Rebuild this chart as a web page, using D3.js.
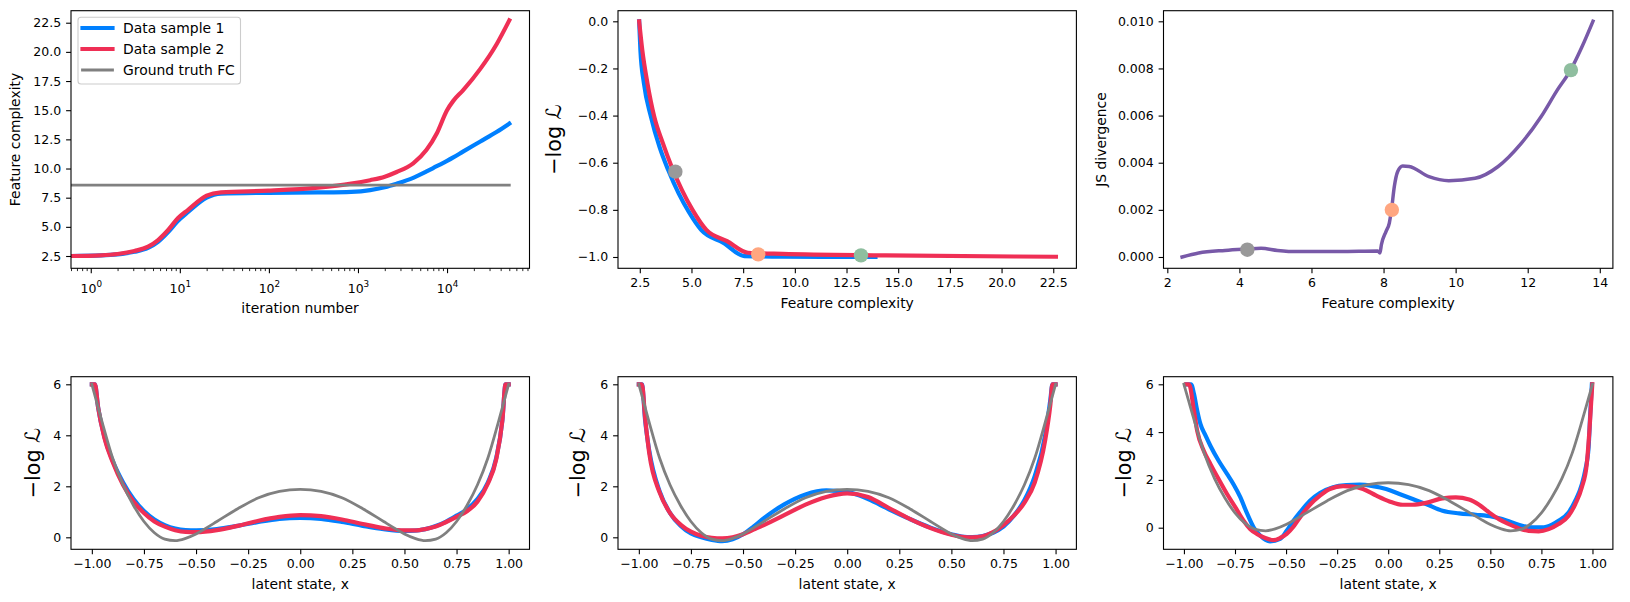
<!DOCTYPE html>
<html><head><meta charset="utf-8">
<script src="https://cdn.jsdelivr.net/npm/d3@7"></script>
<style>
body{margin:0;background:#fff}
svg{display:block}
text{font-family:"DejaVu Sans",sans-serif;fill:#000}
</style>
</head><body>
<svg id="c" width="1630" height="602"></svg>
<script>
// ---------------- data ----------------
// Panel 1: feature complexity vs iteration
const iterations = [0.6, 1.3, 2, 3.1, 4.4, 5.7, 7.4, 9.5, 12.3, 20, 29, 98, 355, 840, 1370, 2000, 2720, 4170, 5890, 7660, 10000, 11750, 15100, 23400, 36300, 50000];
const fcSample1 = [2.5, 2.55, 2.64, 2.86, 3.2, 3.72, 4.55, 5.5, 6.25, 7.5, 7.85, 7.92, 7.95, 8.0, 8.15, 8.4, 8.7, 9.2, 9.75, 10.2, 10.65, 10.95, 11.45, 12.3, 13.15, 13.85];
const fcSample2 = [2.5, 2.56, 2.67, 2.93, 3.3, 3.87, 4.73, 5.73, 6.44, 7.67, 7.96, 8.1, 8.36, 8.7, 9.0, 9.3, 9.7, 10.45, 11.6, 13.0, 15.0, 15.8, 16.7, 18.5, 20.7, 22.7];
const gtIterations = [0.6, 50000];
const gtFC = [8.57, 8.57];
const iterTicks = [1, 10, 100, 1000, 10000];

// Panel 2: -log L vs feature complexity
const nllFC1 = [2.47, 2.53, 2.7, 3.04, 3.45, 3.87, 4.38, 4.88, 5.47, 6.55, 7.56, 9.4, 13.9];
const nllSample1 = [0.0, -0.122, -0.263, -0.405, -0.532, -0.63, -0.73, -0.81, -0.885, -0.94, -0.996, -0.999, -1.0];
const nllFC2 = [2.47, 2.62, 2.87, 3.2, 3.62, 4.04, 4.54, 5.05, 5.72, 6.72, 7.73, 9.4, 14.4, 22.63];
const nllSample2 = [0.0, -0.122, -0.263, -0.405, -0.518, -0.617, -0.716, -0.80, -0.885, -0.933, -0.982, -0.987, -0.993, -0.999];
const markerFC = [4.22, 8.23, 13.2];
const markerNLL = [-0.638, -0.989, -0.993];
const markerJS = [0.00031, 0.0020, 0.00793];
const markerColors = ["#999999", "#FFA680", "#8FBE9F"];

// Panel 3: JS divergence vs feature complexity
const jsFC = [2.41, 2.87, 3.6, 4.24, 4.6, 5.06, 5.6, 6.79, 7.84, 7.9, 7.94, 8.07, 8.16, 8.22, 8.3, 8.39, 8.53, 8.71, 9.26, 9.81, 10.54, 11.18, 11.82, 12.37, 12.82, 13.19, 13.5, 13.81];
const jsValues = [0, 0.00017, 0.00028, 0.00034, 0.00037, 0.00028, 0.00023, 0.00023, 0.00025, 0.00017, 0.00052, 0.00109, 0.00144, 0.0020, 0.0030, 0.00362, 0.00386, 0.00384, 0.00341, 0.00324, 0.00334, 0.00384, 0.00482, 0.00595, 0.00708, 0.00793, 0.0089, 0.0100];

// Bottom panels: potentials vs latent state x
const gtX = [-1.0, -0.98, -0.95, -0.9, -0.85, -0.8, -0.75, -0.7, -0.65, -0.6, -0.55, -0.5, -0.45, -0.4, -0.3, -0.2, -0.1, 0, 0.1, 0.2, 0.3, 0.4, 0.45, 0.5, 0.55, 0.6, 0.65, 0.7, 0.75, 0.8, 0.85, 0.9, 0.95, 0.98, 1.0];
const gtPotential = [6.0, 5.4, 4.5, 3.1, 2.05, 1.25, 0.62, 0.18, -0.07, -0.13, -0.04, 0.13, 0.37, 0.62, 1.12, 1.55, 1.8, 1.88, 1.8, 1.55, 1.12, 0.62, 0.37, 0.13, -0.04, -0.13, -0.07, 0.18, 0.62, 1.25, 2.05, 3.1, 4.5, 5.4, 6.0];

const xA = [-1.0, -0.985, -0.97, -0.94, -0.9, -0.85, -0.8, -0.75, -0.7, -0.65, -0.6, -0.55, -0.5, -0.4, -0.3, -0.2, -0.1, 0, 0.1, 0.2, 0.3, 0.4, 0.5, 0.55, 0.6, 0.65, 0.7, 0.75, 0.8, 0.85, 0.9, 0.94, 0.97, 0.985, 1.0];
const potA1 = [6, 6, 5.1, 3.95, 3.0, 2.15, 1.5, 1.03, 0.7, 0.48, 0.34, 0.28, 0.27, 0.32, 0.45, 0.6, 0.72, 0.76, 0.72, 0.6, 0.45, 0.32, 0.25, 0.26, 0.32, 0.44, 0.62, 0.85, 1.1, 1.5, 2.15, 3.1, 4.6, 6, 6];
const potA2 = [6, 6, 5.1, 3.9, 2.95, 2.05, 1.4, 0.95, 0.62, 0.42, 0.28, 0.21, 0.2, 0.28, 0.45, 0.65, 0.8, 0.87, 0.83, 0.7, 0.52, 0.36, 0.27, 0.27, 0.32, 0.42, 0.6, 0.8, 1.02, 1.4, 2.1, 3.05, 4.6, 6, 6];

const xB = [-1, -0.985, -0.97, -0.95, -0.9, -0.85, -0.8, -0.75, -0.7, -0.65, -0.6, -0.55, -0.5, -0.45, -0.4, -0.3, -0.2, -0.1, 0, 0.1, 0.2, 0.3, 0.4, 0.5, 0.55, 0.6, 0.65, 0.7, 0.75, 0.8, 0.85, 0.9, 0.95, 0.975, 0.985, 1.0];
const potB1 = [6, 6, 4.6, 3.4, 1.8, 0.95, 0.45, 0.15, 0.0, -0.1, -0.15, -0.08, 0.12, 0.42, 0.75, 1.3, 1.68, 1.84, 1.78, 1.5, 1.1, 0.72, 0.38, 0.12, 0.03, 0.01, 0.05, 0.18, 0.42, 0.85, 1.45, 2.4, 4.0, 5.4, 6, 6];
const potB2 = [6, 6, 4.7, 3.3, 1.75, 0.95, 0.5, 0.22, 0.06, -0.02, -0.04, 0.0, 0.12, 0.3, 0.48, 0.88, 1.28, 1.58, 1.72, 1.58, 1.15, 0.72, 0.36, 0.1, 0.02, 0.0, 0.04, 0.2, 0.48, 0.85, 1.35, 2.15, 3.8, 5.2, 6, 6];

const xC1 = [-0.985, -0.965, -0.951, -0.935, -0.919, -0.894, -0.87, -0.83, -0.789, -0.756, -0.724, -0.692, -0.659, -0.627, -0.578, -0.529, -0.497, -0.464, -0.432, -0.383, -0.334, -0.27, -0.205, -0.14, -0.075, -0.01, 0.055, 0.12, 0.185, 0.266, 0.347, 0.429, 0.51, 0.558, 0.607, 0.656, 0.705, 0.753, 0.802, 0.834, 0.883, 0.916, 0.948, 0.964, 0.981, 0.989, 0.997];
const potC1 = [6, 6, 5.6, 4.9, 4.33, 3.85, 3.42, 2.8, 2.25, 1.8, 1.28, 0.62, 0.02, -0.33, -0.57, -0.47, -0.13, 0.29, 0.64, 1.13, 1.45, 1.69, 1.78, 1.8, 1.74, 1.62, 1.41, 1.2, 0.99, 0.71, 0.6, 0.54, 0.46, 0.36, 0.22, 0.08, 0.01, 0.01, 0.13, 0.29, 0.64, 1.13, 1.82, 2.38, 3.36, 4.75, 6];
const xC2 = [-0.99, -0.975, -0.951, -0.935, -0.903, -0.87, -0.83, -0.789, -0.748, -0.708, -0.675, -0.643, -0.602, -0.562, -0.529, -0.497, -0.464, -0.432, -0.383, -0.334, -0.286, -0.221, -0.172, -0.123, -0.058, 0.006, 0.071, 0.12, 0.185, 0.266, 0.331, 0.396, 0.445, 0.494, 0.542, 0.591, 0.64, 0.688, 0.737, 0.786, 0.834, 0.883, 0.916, 0.948, 0.972, 0.985, 0.994, 0.999];
const potC2 = [6, 6, 4.9, 4.05, 3.22, 2.66, 2.03, 1.41, 0.85, 0.29, -0.06, -0.26, -0.43, -0.52, -0.43, -0.26, 0.04, 0.43, 0.96, 1.34, 1.62, 1.74, 1.72, 1.62, 1.34, 1.1, 0.96, 0.96, 1.04, 1.23, 1.27, 1.18, 0.96, 0.64, 0.36, 0.15, -0.03, -0.13, -0.15, -0.06, 0.15, 0.5, 0.99, 1.69, 2.66, 4.05, 5.31, 6];

const legendLabels = ["Data sample 1", "Data sample 2", "Ground truth FC"];

// ---------------- styles ----------------
const BLUE = "#0080FF", RED = "#EF2F55", GRAY = "#808080", PURPLE = "#7859A8";
const TICK_FS = 12.5, LABEL_FS = 13.9, BIG_FS = 20.8;
const svg = d3.select("#c");
const cols = [[71, 529.5], [618, 1076.4], [1163.5, 1612.9]];
const rows = [[10.7, 268.3], [376.7, 549.3]];
const zip = (xs, ys) => xs.map((x, i) => [x, ys[i]]);
let clipId = 0;

function makePanel(col, row, xs, ys) {
  const [x0, x1] = cols[col], [y0, y1] = rows[row];
  xs.range([x0, x1]); ys.range([y1, y0]);
  const id = "clip" + (clipId++);
  svg.append("clipPath").attr("id", id).append("rect")
    .attr("x", x0).attr("y", y0).attr("width", x1 - x0).attr("height", y1 - y0);
  const g = svg.append("g");
  const plot = g.append("g").attr("clip-path", `url(#${id})`);
  return {g, plot, x0, x1, y0, y1, xs, ys};
}
function styleAxis(sel) {
  sel.select(".domain").remove();
  sel.selectAll(".tick line").attr("stroke", "#000").attr("stroke-width", 1.1);
  sel.selectAll("text").attr("font-size", TICK_FS).attr("font-family", '"DejaVu Sans",sans-serif').attr("fill", "#000");
}
function axes(p, xTicks, xFmt, yTicks, yFmt) {
  const ax = p.g.append("g").attr("transform", `translate(0,${p.y1})`)
    .call(d3.axisBottom(p.xs).tickValues(xTicks).tickFormat(xFmt).tickSize(4.9).tickPadding(4.9).tickSizeOuter(0));
  styleAxis(ax);
  const ay = p.g.append("g").attr("transform", `translate(${p.x0},0)`)
    .call(d3.axisLeft(p.ys).tickValues(yTicks).tickFormat(yFmt).tickSize(4.9).tickPadding(4.9).tickSizeOuter(0));
  styleAxis(ay);
  return ax;
}
function frame(p) {
  p.g.append("rect").attr("x", p.x0).attr("y", p.y0).attr("width", p.x1 - p.x0).attr("height", p.y1 - p.y0)
    .attr("fill", "none").attr("stroke", "#000").attr("stroke-width", 1.1);
}
function line(p, xs, ys, color, w, curve) {
  const gen = d3.line().x(d => p.xs(d[0])).y(d => p.ys(d[1])).curve(curve || d3.curveMonotoneX);
  p.plot.append("path").datum(zip(xs, ys)).attr("d", gen)
    .attr("fill", "none").attr("stroke", color).attr("stroke-width", w)
    .attr("stroke-linejoin", "round").attr("stroke-linecap", "square");
}
function dots(p, xs, ys) {
  p.plot.selectAll(null).data(zip(xs, ys)).enter().append("circle")
    .attr("cx", d => p.xs(d[0])).attr("cy", d => p.ys(d[1])).attr("r", 7.2)
    .attr("fill", (d, i) => markerColors[i]);
}
function ylabel(x, yc, txt, big) {
  const t = svg.append("text").attr("transform", `translate(${x},${yc}) rotate(-90)`)
    .attr("text-anchor", "middle").attr("dy", "0.35em")
    .attr("font-size", big ? BIG_FS : LABEL_FS);
  if (big) { t.text("−log "); t.append("tspan").text("ℒ"); } else t.text(txt);
}
function xlabel(xc, yc, txt) {
  svg.append("text").attr("x", xc).attr("y", yc).attr("dy", "0.35em").attr("text-anchor", "middle")
    .attr("font-size", LABEL_FS).text(txt);
}
const f1 = d3.format(".1f"), f2 = d3.format(".2f"), f3 = d3.format(".3f"), fd = d3.format("d");

// ---------------- panel 1 ----------------
{
  const p = makePanel(0, 0, d3.scaleLog().domain([0.6, 84300]), d3.scaleLinear().domain([1.446, 23.53]));
  line(p, iterations, fcSample1, BLUE, 4.2);
  line(p, iterations, fcSample2, RED, 4.2);
  line(p, gtIterations, gtFC, GRAY, 2.8, d3.curveLinear);
  const minor = [];
  [0.1, 1, 10, 100, 1000, 10000].forEach(d => { for (let k = 2; k <= 9; k++) { const v = d * k; if (v >= 0.6 && v <= 84300 && !iterTicks.includes(v)) minor.push(v); } });
  const am = p.g.append("g").attr("transform", `translate(0,${p.y1})`)
    .call(d3.axisBottom(p.xs).tickValues(minor).tickFormat(() => "").tickSize(2.8).tickSizeOuter(0));
  am.select(".domain").remove();
  am.selectAll(".tick line").attr("stroke", "#000").attr("stroke-width", 0.85);
  const ax = axes(p, iterTicks, () => "", [2.5, 5, 7.5, 10, 12.5, 15, 17.5, 20, 22.5], f1);
  ax.selectAll(".tick text").each(function(d) {
    const t = d3.select(this).attr("y", 24.6).attr("dy", 0);
    t.text(null);
    t.append("tspan").text("10");
    t.append("tspan").attr("dy", -6.2).attr("font-size", 8.8).text(Math.round(Math.log10(d)));
  });
  frame(p);
  ylabel(15.6, 139.5, "Feature complexity", false);
  xlabel(300, 307.7, "iteration number");
  const lg = svg.append("g");
  lg.append("rect").attr("x", 78).attr("y", 17.3).attr("width", 162.5).attr("height", 66.7).attr("rx", 3)
    .attr("fill", "#fff").attr("fill-opacity", 0.8).attr("stroke", "#cccccc").attr("stroke-width", 1.1);
  const lc = [BLUE, RED, GRAY], lw = [4.2, 4.2, 2.8];
  legendLabels.forEach((s, i) => {
    const y = 28 + i * 21;
    lg.append("line").attr("x1", 82.5).attr("x2", 112.5).attr("y1", y).attr("y2", y)
      .attr("stroke", lc[i]).attr("stroke-width", lw[i]).attr("stroke-linecap", "square");
    lg.append("text").attr("x", 123).attr("y", y).attr("dy", "0.35em").attr("font-size", LABEL_FS).text(s);
  });
}
// ---------------- panel 2 ----------------
{
  const p = makePanel(1, 0, d3.scaleLinear().domain([1.446, 23.62]), d3.scaleLinear().domain([-1.048, 0.045]));
  line(p, nllFC1, nllSample1, BLUE, 4.2);
  line(p, nllFC2, nllSample2, RED, 4.2);
  dots(p, markerFC, markerNLL);
  axes(p, [2.5, 5, 7.5, 10, 12.5, 15, 17.5, 20, 22.5], f1, [0, -0.2, -0.4, -0.6, -0.8, -1.0], f1);
  frame(p);
  ylabel(553.9, 139.5, "", true);
  xlabel(847.2, 303.5, "Feature complexity");
}
// ---------------- panel 3 ----------------
{
  const p = makePanel(2, 0, d3.scaleLinear().domain([1.894, 14.364]), d3.scaleLinear().domain([-0.00048, 0.01045]));
  line(p, jsFC, jsValues, PURPLE, 3.5);
  dots(p, markerFC, markerJS);
  axes(p, [2, 4, 6, 8, 10, 12, 14], fd, [0, 0.002, 0.004, 0.006, 0.008, 0.010], f3);
  frame(p);
  ylabel(1100.8, 139.5, "JS divergence", false);
  xlabel(1388.2, 303.5, "Feature complexity");
}
// ---------------- bottom panels ----------------
const bottom = [
  {col: 0, yd: [-0.47, 6.298], x1: xA, v1: potA1, x2: xA, v2: potA2, lx: 32.9},
  {col: 1, yd: [-0.47, 6.298], x1: xB, v1: potB1, x2: xB, v2: potB2, lx: 578.1},
  {col: 2, yd: [-0.904, 6.318], x1: xC1, v1: potC1, x2: xC2, v2: potC2, lx: 1123.3}
];
bottom.forEach(b => {
  const p = makePanel(b.col, 1, d3.scaleLinear().domain([-1.1, 1.1]), d3.scaleLinear().domain(b.yd));
  line(p, b.x1, b.v1, BLUE, 4.2);
  line(p, b.x2, b.v2, RED, 4.2);
  line(p, gtX, gtPotential, GRAY, 2.8);
  axes(p, [-1, -0.75, -0.5, -0.25, 0, 0.25, 0.5, 0.75, 1], f2, [0, 2, 4, 6], fd);
  frame(p);
  ylabel(b.lx, 463, "", true);
  xlabel((p.x0 + p.x1) / 2, 584, "latent state, x");
});
</script>
</body></html>
